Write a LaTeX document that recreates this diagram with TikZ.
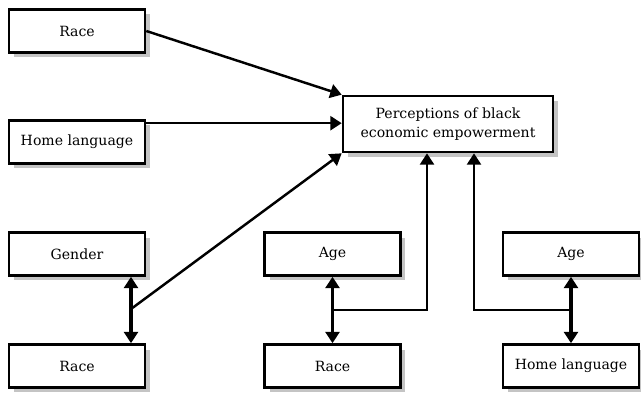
\documentclass[tikz,border=0pt]{standalone}
\usepackage{fontspec}
\setmainfont{DejaVu Serif}
\usepackage{xcolor}
\usepackage{tikz}
\usetikzlibrary{arrows.meta,shadows}
\definecolor{shade}{HTML}{C4C4C4}
\tikzset{
  varBox/.style={draw=black, fill=white, line width=1.5pt, inner sep=0pt,
    minimum width=2.72cm, minimum height=0.86cm, align=center,
    font=\fontsize{8}{10.8}\selectfont,
    drop shadow={shadow xshift=0.1cm, shadow yshift=-0.1cm, fill=shade, opacity=1}},
  arrLine/.style={line width=1.4pt, -{Triangle[length=6.5pt,width=8pt]}},
  dblLine/.style={line width=1.8pt, {Triangle[length=6.5pt,width=8pt]}-{Triangle[length=6.5pt,width=8pt]}},
  plainLine/.style={line width=1.4pt}
}

\begin{document}
\begin{tikzpicture}[x=0.02cm, y=-0.02cm]
    \useasboundingbox (0,0) rectangle (641,394);

    % Outcome
    \node[varBox, minimum width=4.2cm, minimum height=1.12cm] (percep) at (448,124)
      {Perceptions of black\\economic empowerment};

    % Single predictors
    \node[varBox] (race1) at (77,31) {Race};
    \node[varBox] (home1) at (77,142) {Home language};
    \draw[arrLine] (race1.east) -- (percep.north west);
    \coordinate (hl) at ([yshift=-0.08cm]home1.north east);
    \draw[arrLine] (hl) -- (hl -| percep.west);

    % Gender x Race
    \node[varBox] (gender) at (77,254) {Gender};
    \node[varBox] (race2) at (77,366) {Race};
    \coordinate (j1) at (131,309);
    \draw[dblLine] (gender.south -| j1) -- (race2.north -| j1);
    \draw[arrLine] (j1) -- (percep.south west);

    % Age x Race
    \node[varBox] (age1) at (332.5,254) {Age};
    \node[varBox] (race3) at (332.5,366) {Race};
    \coordinate (j2) at (332.5,310);
    \draw[dblLine] (age1) -- (race3);
    \draw[arrLine] (j2) -| ([xshift=-0.42cm]percep.south);

    % Age x Home language
    \node[varBox] (age2) at (571,254) {Age};
    \node[varBox] (home2) at (571,366) {Home language};
    \coordinate (j3) at (571,310);
    \draw[dblLine] (age2) -- (home2);
    \draw[arrLine] (j3) -| ([xshift=0.52cm]percep.south);
\end{tikzpicture}
\end{document}
